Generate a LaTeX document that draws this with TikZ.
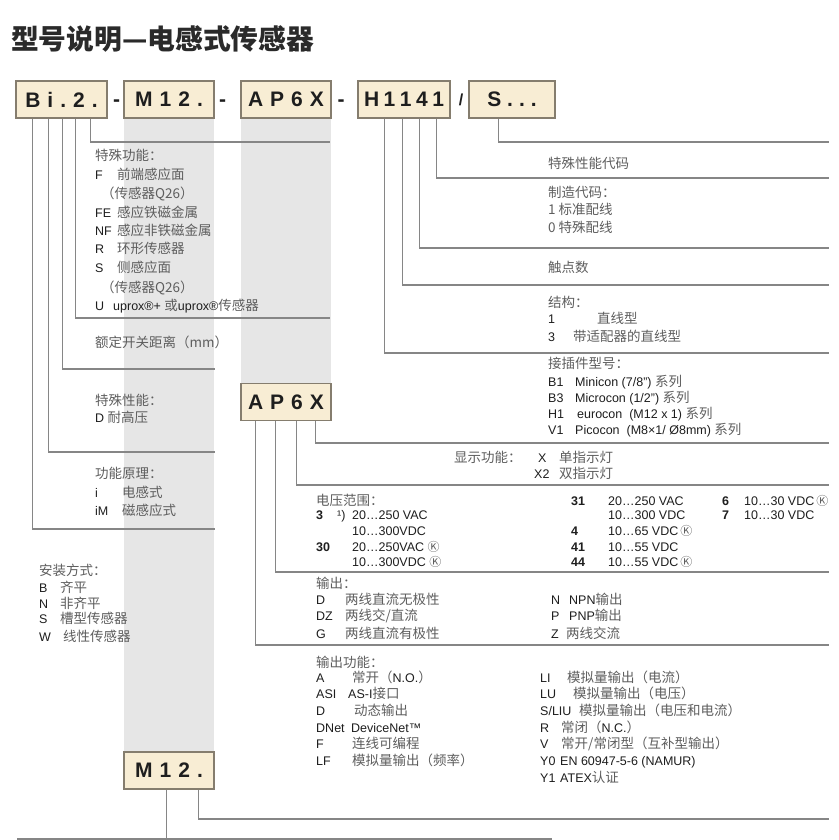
\documentclass[tikz,border=0pt]{standalone}
\usepackage{fontspec}
\setmainfont{Liberation Sans}
\newfontfamily\cjk[Scale=1.08]{Noto Sans CJK SC}
\newfontfamily\cjkplain{Noto Sans CJK SC}
\definecolor{boxfill}{HTML}{F8EDD4}
\definecolor{boxdraw}{HTML}{857D6E}
\definecolor{band}{HTML}{E6E6E6}
\definecolor{linec}{HTML}{868686}
\definecolor{zhc}{HTML}{5E5E5E}
\definecolor{enc}{HTML}{1E1E1E}
\definecolor{titlec}{HTML}{2A2A2A}
\newcommand{\zh}[1]{{\cjk\color{zhc}#1}}
\newcommand{\ck}{{\cjkplain\fontsize{12}{12}\selectfont\color{zhc}Ⓚ}}
\newcommand{\ls}{\kern7pt}
\newcommand{\lsh}{\kern4.5pt}
\newcommand{\T}[4]{\node[txt] (#1) at (#2,#3) {#4};}
\newcommand{\B}[4]{\node[txt,font=\fontsize{12.5}{15}\selectfont\bfseries] (#1) at (#2,#3) {#4};}
\tikzset{
  txt/.style={anchor=base west, inner sep=0pt, font=\fontsize{12.5}{15}\selectfont, text=enc},
  codebox/.style={draw=boxdraw, fill=boxfill, line width=1.2pt, minimum height=37pt, inner sep=0pt,
    font=\fontsize{21}{21}\selectfont\bfseries, text=enc},
  sepmark/.style={anchor=base, inner sep=0pt, font=\fontsize{21}{21}\selectfont\bfseries, text=enc},
  conn/.style={draw=linec, line width=1.1pt},
}
\begin{document}
\begin{tikzpicture}[x=1pt,y=-1pt]
\useasboundingbox (0,0) rectangle (838,840);
\fill[white] (0,0) rectangle (838,840);
% grey bands
\fill[band] (124,118) rectangle (214,752);
\fill[band] (241,118) rectangle (331,383);
% title
\node[anchor=base west, inner sep=0pt, font=\cjk\bfseries\fontsize{25.7}{26}\selectfont, text=titlec] (title) at (11,50) {型号说明—电感式传感器};
% code boxes
\node[codebox, minimum width=91pt] (b1) at (61.5,99.5) {B\ls i\ls .\ls 2\ls .};
\node[codebox, minimum width=90pt] (b2) at (169,99.5) {M\ls 1\ls 2\ls .};
\node[codebox, minimum width=90pt] (b3) at (286,99.5) {A\ls P\ls 6\ls X};
\node[codebox, minimum width=92pt] (b4) at (404,99.5) {H\lsh 1\lsh 1\lsh 4\lsh 1};
\node[codebox, minimum width=86pt] (b5) at (512,99.5) {S\kern6pt .\kern6pt .\kern6pt .};
\node[codebox, minimum width=90pt] (b6) at (286,402) {A\ls P\ls 6\ls X};
\node[codebox, minimum width=90pt] (b7) at (169,770.5) {M\ls 1\ls 2\ls .};
\node[sepmark] (d1) at (116.5,107) {-};
\node[sepmark] (d2) at (222.5,107) {-};
\node[sepmark] (d3) at (341,107) {-};
\node[sepmark, font=\fontsize{16}{16}\selectfont\bfseries] (d4) at (461,106) {/};
% connector end points
\coordinate (e1) at (330,142);
\coordinate (e2) at (330,318);
\coordinate (e3) at (215,369);
\coordinate (e4) at (215,452);
\coordinate (e5) at (215,529);
\coordinate (e6) at (829,353);
\coordinate (e7) at (829,285);
\coordinate (e8) at (829,248);
\coordinate (e9) at (829,178);
\coordinate (e10) at (829,142);
\coordinate (e11) at (829,443);
\coordinate (e12) at (829,485);
\coordinate (e13) at (829,572);
\coordinate (e14) at (829,645);
\coordinate (e15) at (829,819);
\coordinate (e16) at (17,839);
\coordinate (e17) at (552,839);
% connectors
\draw[conn] ([xshift=75pt]b1.south west) |- (e1);
\draw[conn] ([xshift=60pt]b1.south west) |- (e2);
\draw[conn] ([xshift=47pt]b1.south west) |- (e3);
\draw[conn] ([xshift=33pt]b1.south west) |- (e4);
\draw[conn] ([xshift=17pt]b1.south west) |- (e5);
\draw[conn] ([xshift=27pt]b4.south west) |- (e6);
\draw[conn] ([xshift=45pt]b4.south west) |- (e7);
\draw[conn] ([xshift=62pt]b4.south west) |- (e8);
\draw[conn] ([xshift=79pt]b4.south west) |- (e9);
\draw[conn] ([xshift=30pt]b5.south west) |- (e10);
\draw[conn] ([xshift=75pt]b6.south west) |- (e11);
\draw[conn] ([xshift=56pt]b6.south west) |- (e12);
\draw[conn] ([xshift=35pt]b6.south west) |- (e13);
\draw[conn] ([xshift=15pt]b6.south west) |- (e14);
\draw[conn] ([xshift=75pt]b7.south west) |- (e15);
\draw[conn] ([xshift=43pt]b7.south west) coordinate (v7) -- (v7 |- e16);
\draw[conn] (e16) -- (e17);
% left column texts
\T{t1}{95}{160}{\zh{特殊功能：}}
\T{t2}{95}{179}{F}\T{t3}{117}{179}{\zh{前端感应面}}
\T{t4}{101}{198}{\zh{（传感器Q26）}}
\T{t5}{95}{217}{FE}\T{t6}{117}{217}{\zh{感应铁磁金属}}
\T{t7}{95}{235}{NF}\T{t8}{117}{235}{\zh{感应非铁磁金属}}
\T{t9}{95}{253}{R}\T{t10}{117}{253}{\zh{环形传感器}}
\T{t11}{95}{272}{S}\T{t12}{117}{272}{\zh{侧感应面}}
\T{t13}{101}{292}{\zh{（传感器Q26）}}
\T{t14}{95}{310}{U}\T{t15}{113}{310}{uprox®+ \zh{或}uprox®\zh{传感器}}
\T{t16}{95}{347}{\zh{额定开关距离（mm）}}
\T{t17}{95}{405}{\zh{特殊性能：}}
\T{t18}{95}{422}{D \zh{耐高压}}
\T{t19}{95}{478}{\zh{功能原理：}}
\T{t20}{95}{497}{i}\T{t21}{122}{497}{\zh{电感式}}
\T{t22}{95}{515}{iM}\T{t23}{122}{515}{\zh{磁感应式}}
\T{t24}{39}{575}{\zh{安装方式：}}
\T{t25}{39}{592}{B}\T{t26}{60}{592}{\zh{齐平}}
\T{t27}{39}{608}{N}\T{t28}{60}{608}{\zh{非齐平}}
\T{t29}{39}{623}{S}\T{t30}{60}{623}{\zh{槽型传感器}}
\T{t31}{39}{641}{W}\T{t32}{63}{641}{\zh{线性传感器}}
% right upper texts
\T{r1}{548}{168}{\zh{特殊性能代码}}
\T{r2}{548}{197}{\zh{制造代码：}}
\T{r3}{548}{214}{\zh{1 标准配线}}
\T{r4}{548}{232}{\zh{0 特殊配线}}
\T{r5}{548}{272}{\zh{触点数}}
\T{r6}{548}{307}{\zh{结构：}}
\T{r7}{548}{323}{1}\T{r8}{597}{323}{\zh{直线型}}
\T{r9}{548}{341}{3}\T{r10}{573}{341}{\zh{带适配器的直线型}}
\T{r11}{548}{368}{\zh{接插件型号：}}
\T{r12}{548}{386}{B1}\T{r13}{575}{386}{Minicon (7/8") \zh{系列}}
\T{r14}{548}{402}{B3}\T{r15}{575}{402}{Microcon (1/2") \zh{系列}}
\T{r16}{548}{418}{H1}\T{r17}{577}{418}{eurocon\ \ (M12 x 1) \zh{系列}}
\T{r18}{548}{434}{V1}\T{r19}{575}{434}{Picocon\ \ (M8×1/ Ø8mm) \zh{系列}}
\T{r20}{454}{462}{\zh{显示功能：}}
\T{r21}{538}{462}{X}\T{r22}{559}{462}{\zh{单指示灯}}
\T{r23}{534}{478}{X2}\T{r24}{559}{478}{\zh{双指示灯}}
% voltage block
\T{v1}{316}{505}{\zh{电压范围：}}
\B{v2}{316}{519}{3}\T{v3}{337}{519}{¹)}\T{v4}{352}{519}{20…250 VAC}
\T{v5}{352}{535}{10…300VDC}
\B{v6}{316}{551}{30}\T{v7}{352}{551}{20…250VAC \ck}
\T{v8}{352}{566}{10…300VDC \ck}
\B{v9}{571}{505}{31}\T{v10}{608}{505}{20…250 VAC}
\T{v11}{608}{519}{10…300 VDC}
\B{v12}{571}{535}{4}\T{v13}{608}{535}{10…65 VDC\,\ck}
\B{v14}{571}{551}{41}\T{v15}{608}{551}{10…55 VDC}
\B{v16}{571}{566}{44}\T{v17}{608}{566}{10…55 VDC\,\ck}
\B{v18}{722}{505}{6}\T{v19}{744}{505}{10…30 VDC\,\ck}
\B{v20}{722}{519}{7}\T{v21}{744}{519}{10…30 VDC}
% output block
\T{o1}{316}{588}{\zh{输出：}}
\T{o2}{316}{604}{D}\T{o3}{345}{604}{\zh{两线直流无极性}}
\T{o4}{316}{620}{DZ}\T{o5}{345}{620}{\zh{两线交/直流}}
\T{o6}{316}{638}{G}\T{o7}{345}{638}{\zh{两线直流有极性}}
\T{o8}{551}{604}{N}\T{o9}{569}{604}{NPN\zh{输出}}
\T{o10}{551}{620}{P}\T{o11}{569}{620}{PNP\zh{输出}}
\T{o12}{551}{638}{Z}\T{o13}{566}{638}{\zh{两线交流}}
% output function block
\T{f1}{316}{667}{\zh{输出功能：}}
\T{f2}{316}{682}{A}\T{f3}{352}{682}{\zh{常开（}N.O.\zh{）}}
\T{f4}{316}{698}{ASI}\T{f5}{348}{698}{AS-I\zh{接口}}
\T{f6}{316}{715}{D}\T{f7}{354}{715}{\zh{动态输出}}
\T{f8}{316}{732}{DNet}\T{f9}{351}{732}{DeviceNet™}
\T{f10}{316}{748}{F}\T{f11}{352}{748}{\zh{连线可编程}}
\T{f12}{316}{765}{LF}\T{f13}{352}{765}{\zh{模拟量输出（频率）}}
\T{f14}{540}{682}{LI}\T{f15}{567}{682}{\zh{模拟量输出（电流）}}
\T{f16}{540}{698}{LU}\T{f17}{573}{698}{\zh{模拟量输出（电压）}}
\T{f18}{540}{715}{S/LIU}\T{f19}{579}{715}{\zh{模拟量输出（电压和电流）}}
\T{f20}{540}{732}{R}\T{f21}{561}{732}{\zh{常闭（}N.C.\zh{）}}
\T{f22}{540}{748}{V}\T{f23}{561}{748}{\zh{常开/常闭型（互补型输出）}}
\T{f24}{540}{765}{Y0}\T{f25}{560}{765}{EN 60947-5-6 (NAMUR)}
\T{f26}{540}{782}{Y1}\T{f27}{560}{782}{ATEX\zh{认证}}
\end{tikzpicture}
\end{document}
